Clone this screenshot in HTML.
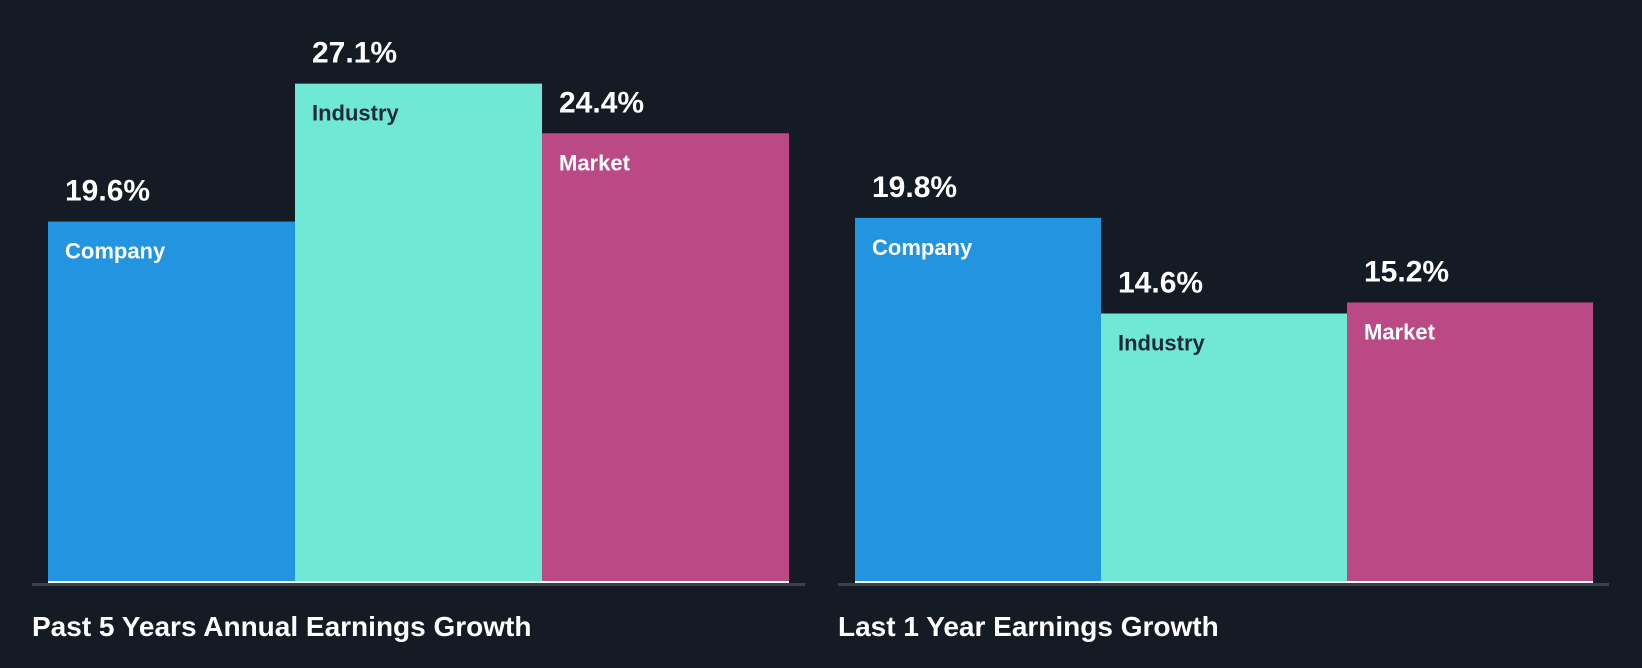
<!DOCTYPE html>
<html><head><meta charset="utf-8"><style>
html,body{margin:0;padding:0;background:#151b24;}
svg{display:block;font-family:"Liberation Sans",sans-serif;font-weight:bold;}
</style></head><body>
<svg id="chart" width="1642" height="668" viewBox="0 0 1642 668">
<rect width="1642" height="668" fill="#151b24"/>
</svg>
<script>
const groupTitles = ["Past 5 Years Annual Earnings Growth", "Last 1 Year Earnings Growth"];
const categories = ["Company", "Industry", "Market"];
const fiveYearValues = [19.6, 27.1, 24.4];
const oneYearValues = [19.8, 14.6, 15.2];
const valueLabels5 = ["19.6%", "27.1%", "24.4%"];
const valueLabels1 = ["19.8%", "14.6%", "15.2%"];

const NS = "http://www.w3.org/2000/svg";
const svg = document.getElementById("chart");
const colors = ["#2394df", "#70e8d6", "#bb4985"];
const textColors = ["#ffffff", "#1f2a36", "#ffffff"];
const baseY = 582, pxPer = 18.39;
function yScale(v){ return baseY - v * pxPer; }
const groups = [
  {x0: 48, w: 247, lineX: 32, lineW: 773, vals: fiveYearValues, labels: valueLabels5, title: groupTitles[0], key: "past-5-years"},
  {x0: 855, w: 246, lineX: 838, lineW: 771, vals: oneYearValues, labels: valueLabels1, title: groupTitles[1], key: "last-1-year"}
];
function mk(tag, attrs){ const e = document.createElementNS(NS, tag); for (const k in attrs) e.setAttribute(k, attrs[k]); return e; }
groups.forEach(g => {
  const axis = mk("rect", {x: g.lineX, y: baseY + 1, width: g.lineW, height: 3, fill: "#3b414a"});
  
  
  svg.appendChild(axis);
  g.vals.forEach((v, i) => {
    const x = g.x0 + i * g.w, top = yScale(v);
    const bar = mk("rect", {x: x, y: top, width: g.w, height: baseY - top, fill: colors[i]});
    
    
    svg.appendChild(bar);
    const wl = mk("rect", {x: x, y: baseY - 1, width: g.w, height: 2, fill: "#ffffff"});
    
    
    svg.appendChild(wl);
    const vt = mk("text", {x: x + 17, y: top - 21, fill: "#ffffff", "font-size": 30});
    vt.textContent = g.labels[i];
    
    
    svg.appendChild(vt);
    const ct = mk("text", {x: x + 17, y: top + 37, fill: textColors[i], "font-size": 22});
    ct.textContent = categories[i];
    
    
    svg.appendChild(ct);
  });
  const t = mk("text", {x: g.lineX, y: 636, fill: "#ffffff", "font-size": 28});
  t.textContent = g.title;
  
  
  svg.appendChild(t);
});
</script>
</body></html>
